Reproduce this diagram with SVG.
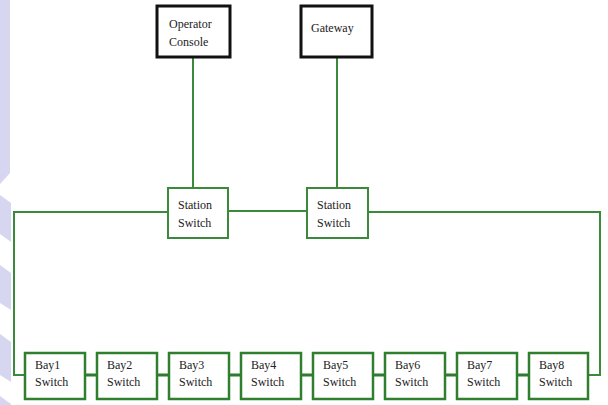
<svg xmlns="http://www.w3.org/2000/svg" width="608" height="405" viewBox="0 0 608 405">
<style>
.bg{fill:#d6d6f0}
.top{fill:#fff;stroke:#111;stroke-width:3}
.sw{fill:#fff;stroke:#3b8a3b;stroke-width:2}
.bay{fill:#fff;stroke:#2f7f2f;stroke-width:2.5}
.ln{fill:none;stroke:#3b8a3b;stroke-width:2}
.lt{fill:none;stroke:#2f7a2f;stroke-width:3}
text{font-family:"Liberation Serif","Times New Roman",serif;font-size:12px;fill:#222}
</style>
<rect width="608" height="405" fill="#fff"/>
<g id="background">
<polygon class="bg" points="0,0 10,0 10,173 0,184"/>
<polygon class="bg" points="0,195 11,203 11,242 0,234"/>
<polygon class="bg" points="0,265 11,273 11,310 0,303"/>
<polygon class="bg" points="0,334 11,342 11,382 0,375"/>
<polygon class="bg" points="0,396 11,404 11,405 0,405"/>
</g>
<g id="connectors">
<line class="ln" x1="193" y1="57" x2="193" y2="188"/>
<line class="ln" x1="337" y1="57" x2="337" y2="188"/>
<line class="ln" x1="228" y1="211" x2="307" y2="211"/>
<polyline class="ln" points="168,212 14,212 14,375 25,375"/>
<polyline class="ln" points="368,212 600,212 600,375 588,375"/>
<line class="lt" x1="85" y1="375" x2="97" y2="375"/>
<line class="lt" x1="157" y1="375" x2="169" y2="375"/>
<line class="lt" x1="229" y1="375" x2="241" y2="375"/>
<line class="lt" x1="301" y1="375" x2="313" y2="375"/>
<line class="lt" x1="373" y1="375" x2="385" y2="375"/>
<line class="lt" x1="445" y1="375" x2="457" y2="375"/>
<line class="lt" x1="517" y1="375" x2="529" y2="375"/>
</g>
<g id="operator-console"><rect class="top" x="157" y="6" width="73" height="51"/><text x="169" y="28">Operator</text><text x="169" y="46">Console</text></g>
<g id="gateway"><rect class="top" x="301" y="6" width="71" height="51"/><text x="311" y="32">Gateway</text></g>
<g id="station-switch-1"><rect class="sw" x="168" y="188" width="60" height="50"/><text x="178" y="209">Station</text><text x="178" y="227">Switch</text></g>
<g id="station-switch-2"><rect class="sw" x="307" y="188" width="61" height="50"/><text x="317" y="209">Station</text><text x="317" y="227">Switch</text></g>
<g id="bay1"><rect class="bay" x="25" y="353" width="60" height="46"/><text x="35" y="369">Bay1</text><text x="35" y="386">Switch</text></g>
<g id="bay2"><rect class="bay" x="97" y="353" width="60" height="46"/><text x="107" y="369">Bay2</text><text x="107" y="386">Switch</text></g>
<g id="bay3"><rect class="bay" x="169" y="353" width="60" height="46"/><text x="179" y="369">Bay3</text><text x="179" y="386">Switch</text></g>
<g id="bay4"><rect class="bay" x="241" y="353" width="60" height="46"/><text x="251" y="369">Bay4</text><text x="251" y="386">Switch</text></g>
<g id="bay5"><rect class="bay" x="313" y="353" width="60" height="46"/><text x="323" y="369">Bay5</text><text x="323" y="386">Switch</text></g>
<g id="bay6"><rect class="bay" x="385" y="353" width="60" height="46"/><text x="395" y="369">Bay6</text><text x="395" y="386">Switch</text></g>
<g id="bay7"><rect class="bay" x="457" y="353" width="60" height="46"/><text x="467" y="369">Bay7</text><text x="467" y="386">Switch</text></g>
<g id="bay8"><rect class="bay" x="529" y="353" width="59" height="46"/><text x="539" y="369">Bay8</text><text x="539" y="386">Switch</text></g>
</svg>
